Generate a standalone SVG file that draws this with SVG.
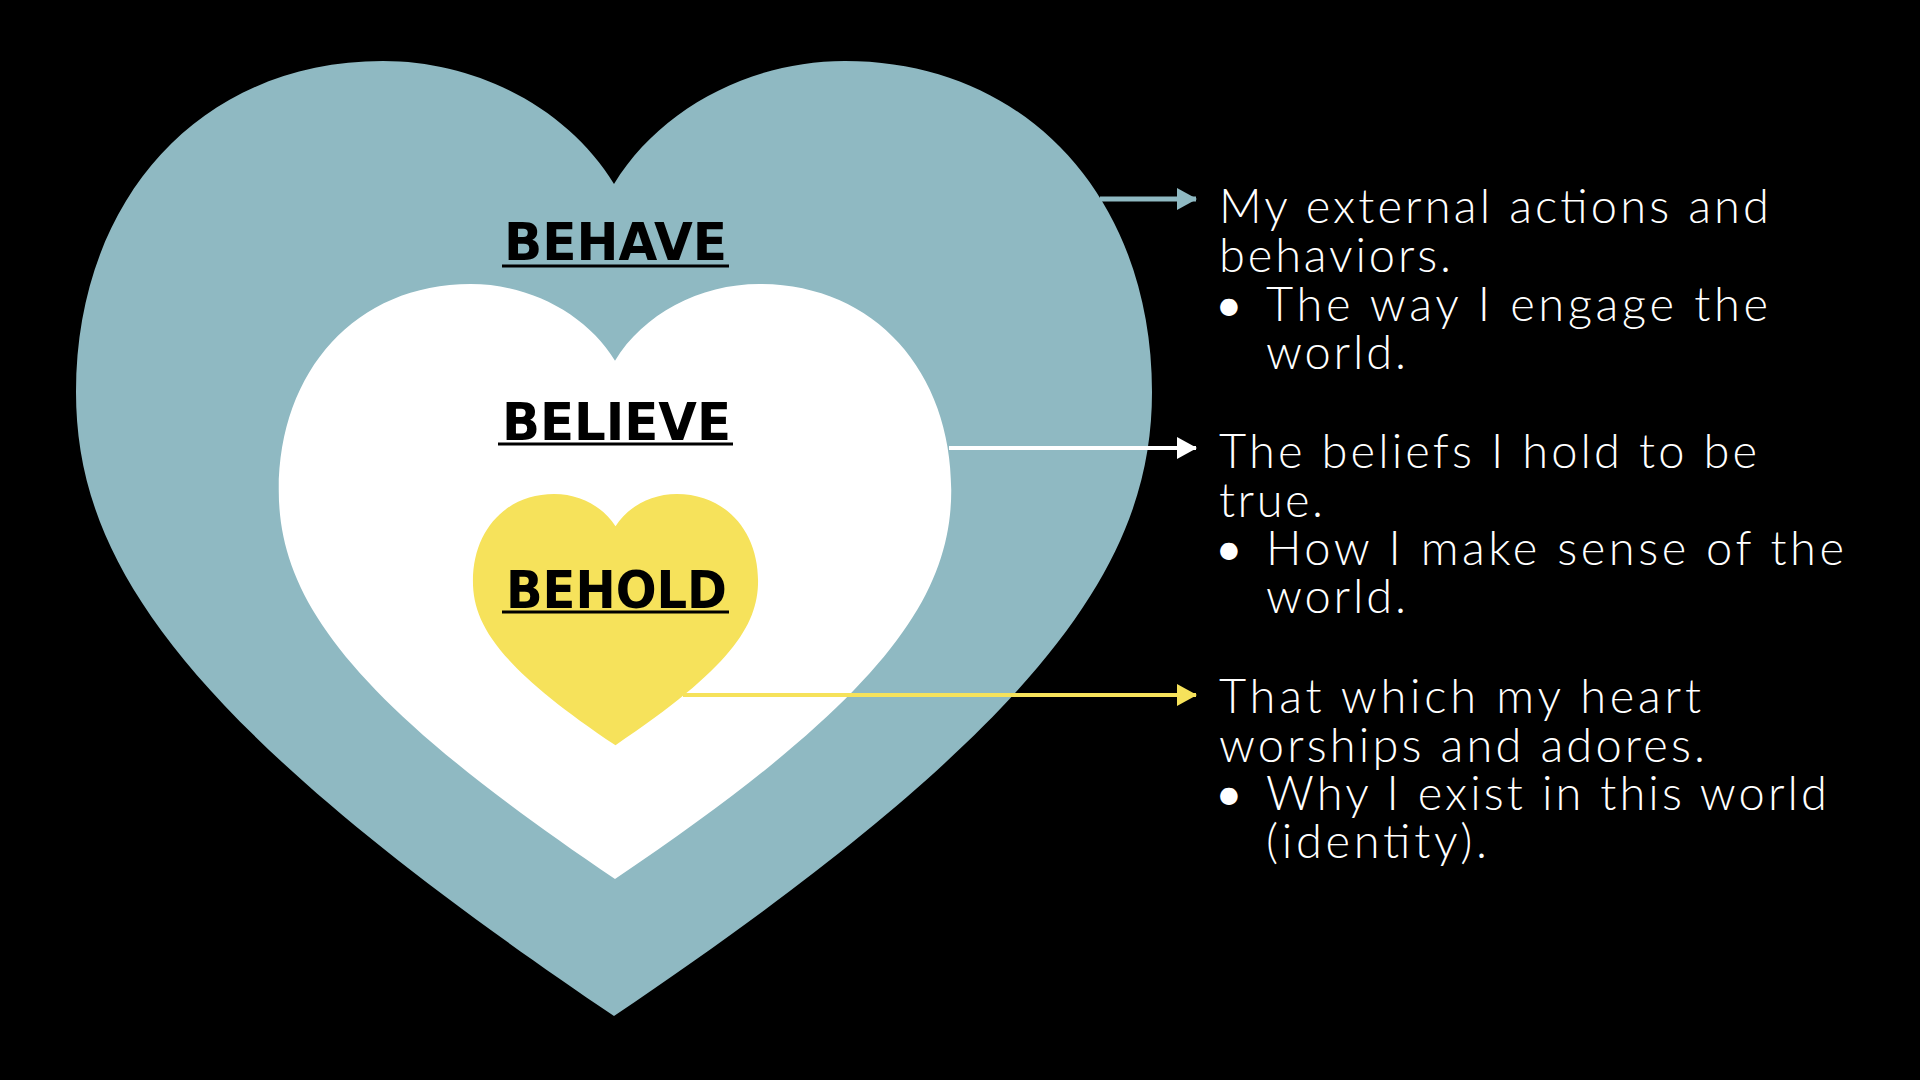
<svg xmlns="http://www.w3.org/2000/svg" xmlns:xlink="http://www.w3.org/1999/xlink" width="1920" height="1080" viewBox="0 0 1920 1080">
  <style>
    .lbl { font-family: "DejaVu Sans", "Liberation Sans", sans-serif; font-weight: bold; font-size: 51px; fill: #000; }
    .ul { stroke: #000; stroke-width: 3; }
    .txt { font-family: "Lato", "Open Sans", "Liberation Sans", sans-serif; font-weight: 300; font-size: 47px; fill: #fff; }
    .bul { font-family: "Lato", "Liberation Sans", sans-serif; font-size: 47px; fill: #fff; text-anchor: middle; }
  </style>
  <defs>
    <path id="heart" d="M0,123 C-45,49 -135,0 -231,0 C-414,0 -538,139 -538,331 C-538,502 -430,665 0,955 C430,665 538,502 538,331 C538,139 414,0 231,0 C135,0 45,49 0,123 Z"/>
    <marker id="ahTeal" markerUnits="userSpaceOnUse" markerWidth="20" markerHeight="22" refX="19" refY="11" orient="auto">
      <path d="M0,0 L20,11 L0,22 Z" fill="#8FB9C2"/>
    </marker>
    <marker id="ahWhite" markerUnits="userSpaceOnUse" markerWidth="20" markerHeight="22" refX="19" refY="11" orient="auto">
      <path d="M0,0 L20,11 L0,22 Z" fill="#FFFFFF"/>
    </marker>
    <marker id="ahYellow" markerUnits="userSpaceOnUse" markerWidth="20" markerHeight="22" refX="19" refY="11" orient="auto">
      <path d="M0,0 L20,11 L0,22 Z" fill="#F6E25B"/>
    </marker>
  </defs>
  <rect x="0" y="0" width="1920" height="1080" fill="#000"/>

  <g id="behave-heart">
    <use xlink:href="#heart" href="#heart" transform="translate(614,61)" fill="#8FB9C2"/>
  </g>
  <g id="believe-heart">
    <use xlink:href="#heart" href="#heart" transform="translate(615,284) scale(0.625,0.623)" fill="#FFFFFF"/>
  </g>
  <g id="behold-heart">
    <use xlink:href="#heart" href="#heart" transform="translate(615.5,494) scale(0.265,0.263)" fill="#F6E25B"/>
  </g>

  <g id="connectors">
    <line x1="1100" y1="199" x2="1196" y2="199" stroke="#8FB9C2" stroke-width="5" marker-end="url(#ahTeal)"/>
    <line x1="949" y1="448" x2="1196" y2="448" stroke="#FFFFFF" stroke-width="4" marker-end="url(#ahWhite)"/>
    <line x1="683" y1="695" x2="1196" y2="695" stroke="#F6E25B" stroke-width="4" marker-end="url(#ahYellow)"/>
  </g>

  <g id="label-behave">
    <text class="lbl" x="504" y="260" textLength="223" lengthAdjust="spacingAndGlyphs">BEHAVE</text>
    <line class="ul" x1="502" y1="266" x2="729" y2="266"/>
  </g>
  <g id="label-believe">
    <text class="lbl" x="502" y="440" textLength="229" lengthAdjust="spacingAndGlyphs">BELIEVE</text>
    <line class="ul" x1="498" y1="444" x2="733" y2="444"/>
  </g>
  <g id="label-behold">
    <text class="lbl" x="506" y="608" textLength="221" lengthAdjust="spacingAndGlyphs">BEHOLD</text>
    <line class="ul" x1="502" y1="612" x2="729" y2="612"/>
  </g>

  <g id="desc-behave">
    <text class="txt" x="1219" y="223" textLength="550" lengthAdjust="spacing">My external actions and</text>
    <text class="txt" x="1219" y="272" textLength="232" lengthAdjust="spacing">behaviors.</text>
    <text class="bul" x="1229" y="321">•</text>
    <text class="txt" x="1266" y="321" textLength="502" lengthAdjust="spacing">The way I engage the</text>
    <text class="txt" x="1266" y="369" textLength="140" lengthAdjust="spacing">world.</text>
  </g>
  <g id="desc-believe">
    <text class="txt" x="1219" y="468" textLength="538" lengthAdjust="spacing">The beliefs I hold to be</text>
    <text class="txt" x="1219" y="517" textLength="104" lengthAdjust="spacing">true.</text>
    <text class="bul" x="1229" y="565">•</text>
    <text class="txt" x="1266" y="565" textLength="578" lengthAdjust="spacing">How I make sense of the</text>
    <text class="txt" x="1266" y="613" textLength="140" lengthAdjust="spacing">world.</text>
  </g>
  <g id="desc-behold">
    <text class="txt" x="1219" y="713" textLength="482" lengthAdjust="spacing">That which my heart</text>
    <text class="txt" x="1219" y="762" textLength="486" lengthAdjust="spacing">worships and adores.</text>
    <text class="bul" x="1229" y="810">•</text>
    <text class="txt" x="1266" y="810" textLength="561" lengthAdjust="spacing">Why I exist in this world</text>
    <text class="txt" x="1266" y="858" textLength="221" lengthAdjust="spacing">(identity).</text>
  </g>
</svg>
